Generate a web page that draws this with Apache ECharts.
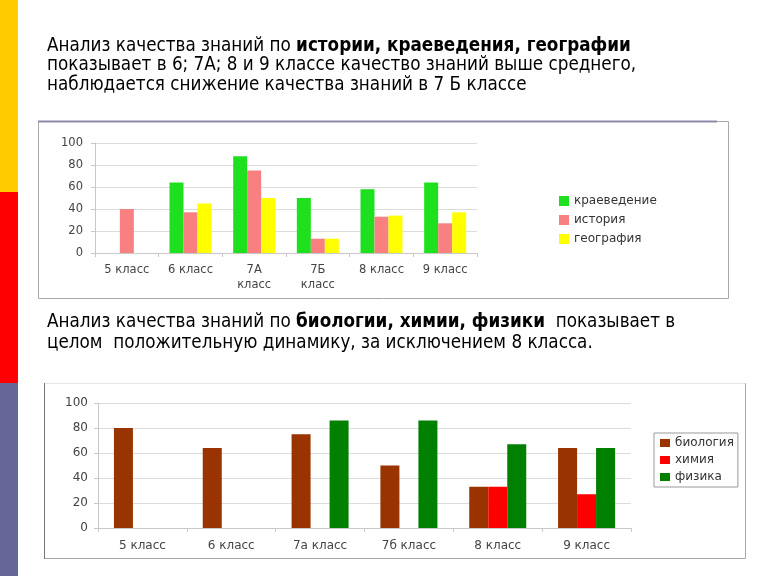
<!DOCTYPE html>
<html>
<head>
<meta charset="utf-8">
<script src="https://cdn.jsdelivr.net/npm/echarts@6/dist/echarts.min.js"></script>
<style>html,body{margin:0;padding:0;background:#fff;}#c{width:768px;height:576px;}</style>
</head>
<body>
<div id="c"></div>
<script>
// Chart 1 data
const cats1 = ['5 класс', '6 класс', '7А\nкласс', '7Б\nкласс', '8 класс', '9 класс'];
const kraeved = [null, 64, 88, 50, 58, 64];
const istoriya = [40, 37, 75, 13, 33, 27];
const geografiya = [null, 45, 50, 13, 34, 37];
// Chart 2 data
const cats2 = ['5 класс', '6 класс', '7а класс', '7б класс', '8 класс', '9 класс'];
const biologiya = [80, 64, 75, 50, 33, 64];
const khimiya = [null, null, null, null, 33, 27];
const fizika = [null, null, 86, 86, 67, 64];
const yTicks = [0, 20, 40, 60, 80, 100];

const chart = echarts.init(document.getElementById('c'), null, {renderer: 'canvas'});
const FONT = "'DejaVu Sans Condensed', 'DejaVu Sans', sans-serif";
const AX = "'DejaVu Sans', Verdana, sans-serif";

function yAx(gi, fs, margin) {
  return {
    gridIndex: gi, type: 'value', min: yTicks[0], max: yTicks[yTicks.length - 1], interval: yTicks[1] - yTicks[0],
    axisLine: {show: true, lineStyle: {color: '#c8c8c8'}},
    axisTick: {show: true, length: 4, lineStyle: {color: '#c8c8c8'}},
    splitLine: {lineStyle: {color: '#dcdcdc'}},
    axisLabel: {color: '#444', fontSize: fs, fontFamily: AX, margin: margin}
  };
}
function xAx(gi, cats, margin, fs) {
  return {
    gridIndex: gi, type: 'category', data: cats,
    axisLine: {lineStyle: {color: '#c8c8c8'}},
    axisTick: {show: true, length: 4, lineStyle: {color: '#c8c8c8'}},
    axisLabel: {interval: 0, color: '#444', fontSize: fs, fontFamily: AX, margin: margin, lineHeight: 15}
  };
}
function bar(name, data, gi, color, w) {
  return {name, type: 'bar', data, xAxisIndex: gi, yAxisIndex: gi, barWidth: w, barGap: '0%',
    itemStyle: {color}, animation: false};
}

const rich = {
  n: {fontSize: 18.7, fontFamily: FONT, color: '#222'},
  b: {fontSize: 18.7, fontFamily: FONT, color: '#111', fontWeight: 'bold'}
};

chart.setOption({
  animation: false,
  grid: [
    {left: 95, top: 143, width: 382, height: 110},
    {left: 98, top: 403, width: 533, height: 125}
  ],
  xAxis: [xAx(0, cats1, 10, 11.5), xAx(1, cats2, 10, 12)],
  yAxis: [yAx(0, 11.5, 12), yAx(1, 12, 10)],
  legend: [
    {data: ['краеведение', 'история', 'география'], orient: 'vertical', left: 559, top: 195,
     itemWidth: 10, itemHeight: 10, itemGap: 7, icon: 'rect', padding: 0,
     textStyle: {fontSize: 12, fontFamily: AX, color: '#333'}},
    {data: ['биология', 'химия', 'физика'], orient: 'vertical', left: 654, top: 433,
     itemWidth: 10, itemHeight: 8, itemGap: 5, icon: 'rect', padding: [4, 4, 4, 6],
     borderColor: '#999', borderWidth: 1,
     textStyle: {fontSize: 12, fontFamily: AX, color: '#333'}}
  ],
  series: [
    bar('краеведение', kraeved, 0, '#1ee01e', 14),
    bar('история', istoriya, 0, '#f88080', 14),
    bar('география', geografiya, 0, '#ffff00', 14),
    bar('биология', biologiya, 1, '#993300', 19),
    bar('химия', khimiya, 1, '#ff0000', 19),
    bar('физика', fizika, 1, '#008000', 19)
  ],
  graphic: [
    {type: 'rect', shape: {x: 0, y: 0, width: 18, height: 192}, style: {fill: '#ffcc00'}},
    {type: 'rect', shape: {x: 0, y: 192, width: 18, height: 191}, style: {fill: '#ff0000'}},
    {type: 'rect', shape: {x: 0, y: 383, width: 18, height: 193}, style: {fill: '#666699'}},
    {type: 'rect', z: -1, shape: {x: 38.5, y: 121.5, width: 690, height: 177}, style: {fill: 'none', stroke: '#a8a8a8', lineWidth: 1}},
    {type: 'line', shape: {x1: 38, y1: 121.5, x2: 717, y2: 121.5}, style: {stroke: '#8a8aa8', lineWidth: 2}},
    {type: 'rect', z: -1, shape: {x: 44.5, y: 383.5, width: 701, height: 175}, style: {fill: 'none', stroke: '#a8a8a8', lineWidth: 1}},
    {type: 'line', shape: {x1: 44.5, y1: 383, x2: 44.5, y2: 559}, style: {stroke: '#777', lineWidth: 1}},
    {type: 'line', shape: {x1: 45, y1: 383.5, x2: 745, y2: 383.5}, style: {stroke: '#e6e6e6', lineWidth: 1}},
    {type: 'text', left: 47, top: 36.5, style: {text: '{n|Анализ качества знаний по }{b|истории, краеведения, географии}', rich}},
    {type: 'text', left: 47, top: 56, style: {text: '{n|показывает в 6; 7А; 8 и 9 классе качество знаний выше среднего,}', rich}},
    {type: 'text', left: 47, top: 75.5, style: {text: '{n|наблюдается снижение качества знаний в 7 Б классе}', rich}},
    {type: 'text', left: 47, top: 312.5, style: {text: '{n|Анализ качества знаний по }{b|биологии, химии, физики}{n|  показывает в}', rich}},
    {type: 'text', left: 47, top: 333.5, style: {text: '{n|целом  положительную динамику, за исключением 8 класса.}', rich}}
  ]
});
</script>
</body>
</html>
